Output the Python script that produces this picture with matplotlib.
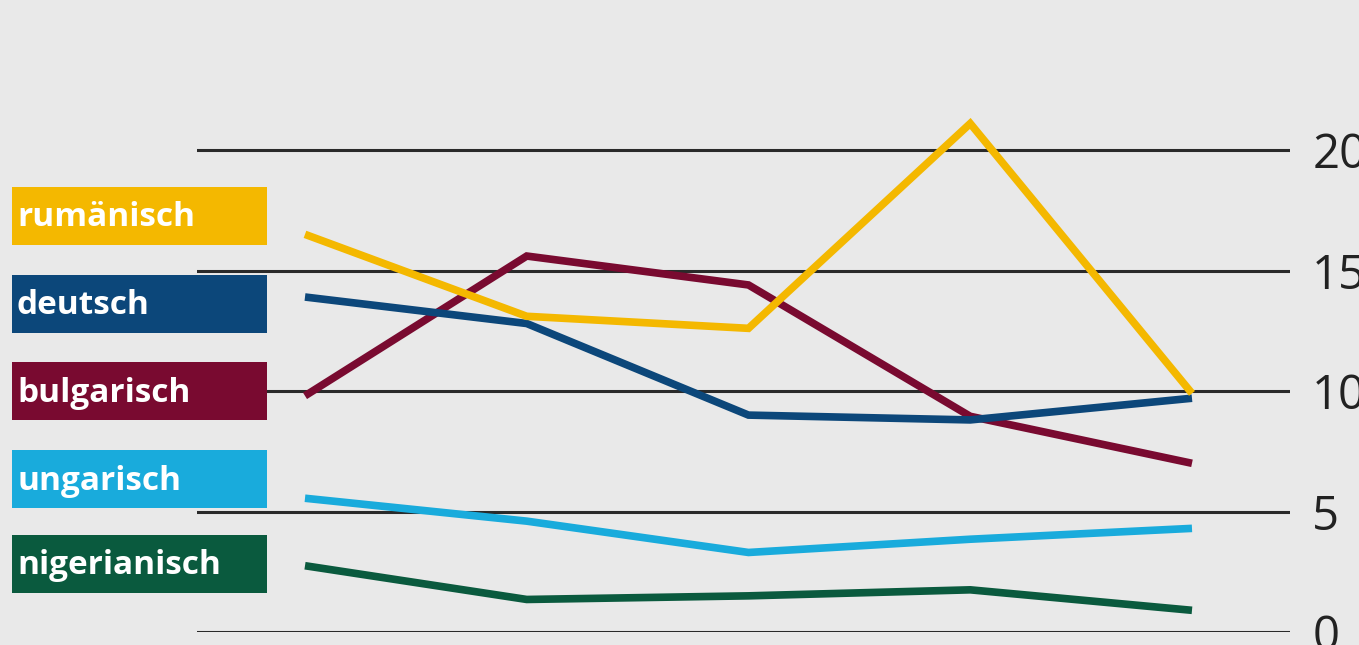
import matplotlib.pyplot as plt
from matplotlib.patches import Rectangle

# Werte je Jahr (5 Zeitpunkte)
jahre = [0, 1, 2, 3, 4]
rumaenisch = [16.5, 13.1, 12.6, 21.1, 9.9]
deutsch = [13.9, 12.8, 9.0, 8.8, 9.7]
bulgarisch = [9.8, 15.6, 14.4, 8.95, 7.0]
ungarisch = [5.55, 4.6, 3.3, 3.85, 4.3]
nigerianisch = [2.75, 1.35, 1.5, 1.75, 0.9]

namen = ['rumänisch', 'deutsch', 'bulgarisch', 'ungarisch', 'nigerianisch']
farben = ['#f4b800', '#0c477a', '#790a30', '#19abdc', '#0a5a3e']
reihen = [rumaenisch, deutsch, bulgarisch, ungarisch, nigerianisch]
yticks = [0, 5, 10, 15, 20]

bg = '#e9e9e9'
W, H = 1359, 645
fig = plt.figure(figsize=(W / 100, H / 100), dpi=100, facecolor=bg)
ax = fig.add_axes([197 / W, (H - 632) / H, (1290 - 197) / W, 626.6 / H])
ax.set_facecolor(bg)

# Gitterlinien
for t in yticks:
    ax.axhline(t, color='#2a2a2a', lw=2.2, zorder=1)

# Reihen, unterste zuerst
for werte, f in zip(reihen[::-1], farben[::-1]):
    ax.plot(jahre, werte, color=f, lw=5.5, solid_joinstyle='miter',
            solid_capstyle='butt', zorder=3)

ax.set_xlim(-0.487, 4.442)
ax.set_ylim(0, 26)
for s in ax.spines.values():
    s.set_visible(False)
ax.set_xticks([])
ax.set_yticks(yticks)
ax.yaxis.tick_right()
ax.tick_params(axis='y', length=0, pad=16, labelsize=34, labelcolor='#222222')
for lab in ax.get_yticklabels():
    lab.set_fontfamily('Open Sans')

# Legende als farbige Kaesten links
kasten_y = [187, 275, 362, 450, 535]
for name, f, y in zip(namen, farben, kasten_y):
    fig.add_artist(Rectangle((12 / W, (H - y - 58) / H), 255 / W, 58 / H,
                             transform=fig.transFigure, facecolor=f,
                             edgecolor='none'))
    fig.text(17 / W, (H - y - 31) / H, name, color='white', fontsize=24,
             fontweight='bold', family='Open Sans', va='center', ha='left')

fig.savefig('out.png', dpi=100, facecolor=bg)
